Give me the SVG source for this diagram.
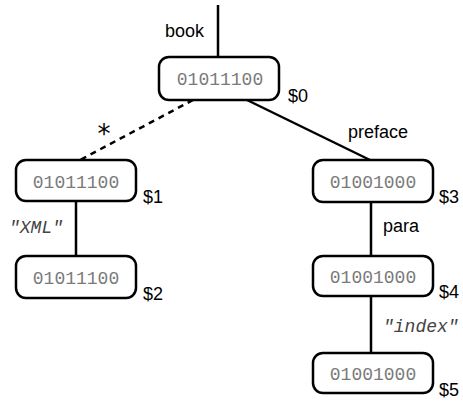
<svg xmlns="http://www.w3.org/2000/svg" width="463" height="402" viewBox="0 0 463 402">
<style>
.box{fill:#fff;stroke:#000;stroke-width:2.5}
.bits{font-family:"Liberation Mono",monospace;font-size:18px;fill:#7a7a7a;text-anchor:middle}
.lbl{font-family:"Liberation Sans",Arial,sans-serif;font-size:18px;fill:#000}
.str{font-family:"Liberation Mono",monospace;font-style:italic;font-size:18px;fill:#444}
.edge{stroke:#000;stroke-width:2.5;fill:none}
</style>
<rect width="463" height="402" fill="#fff"/>
<g id="connectors">
<line class="edge" x1="218" y1="5" x2="218" y2="57"/>
<line class="edge" x1="193" y1="100" x2="80" y2="160" stroke-dasharray="6,5"/>
<line class="edge" x1="247" y1="100" x2="370" y2="160"/>
<line class="edge" x1="76" y1="201" x2="76" y2="256"/>
<line class="edge" x1="371" y1="202" x2="371" y2="256"/>
<line class="edge" x1="371" y1="296" x2="371" y2="353"/>
<text class="lbl" x="165" y="37">book</text>
<text x="104" y="143" font-family="DejaVu Sans,sans-serif" font-size="26" text-anchor="middle" fill="#000">*</text>
<text class="lbl" x="348" y="138">preface</text>
<text class="str" x="9" y="233">"XML"</text>
<text class="lbl" x="383" y="232">para</text>
<text class="str" x="383" y="332">"index"</text>
</g>
<g id="n0">
<rect class="box" x="159" y="57" width="120" height="43" rx="10"/>
<text class="bits" x="220" y="85">01011100</text>
<text class="lbl" x="288" y="102">$0</text>
</g>
<g id="n1">
<rect class="box" x="16" y="160" width="120" height="41" rx="10"/>
<text class="bits" x="76" y="188">01011100</text>
<text class="lbl" x="143" y="203">$1</text>
</g>
<g id="n2">
<rect class="box" x="16" y="256" width="120" height="42" rx="10"/>
<text class="bits" x="76" y="284">01011100</text>
<text class="lbl" x="143" y="300">$2</text>
</g>
<g id="n3">
<rect class="box" x="313" y="160" width="120" height="42" rx="10"/>
<text class="bits" x="373" y="188">01001000</text>
<text class="lbl" x="439" y="203">$3</text>
</g>
<g id="n4">
<rect class="box" x="313" y="256" width="120" height="40" rx="10"/>
<text class="bits" x="373" y="283">01001000</text>
<text class="lbl" x="439" y="298">$4</text>
</g>
<g id="n5">
<rect class="box" x="313" y="353" width="120" height="40" rx="10"/>
<text class="bits" x="373" y="380">01001000</text>
<text class="lbl" x="439" y="396">$5</text>
</g>
</svg>
